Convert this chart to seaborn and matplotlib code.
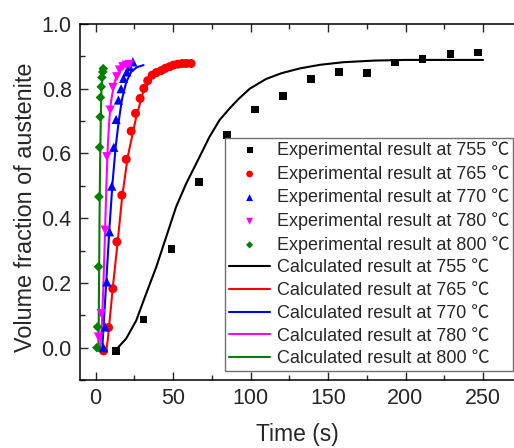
import matplotlib
matplotlib.use('Agg')
import matplotlib.pyplot as plt
import seaborn as sns
from matplotlib.ticker import MultipleLocator, FormatStrFormatter

# experimental points (time in s, volume fraction)
t755 = [13, 31, 49, 67, 85, 103, 121, 139, 157, 175, 193, 211, 229, 247]
f755 = [-0.01, 0.087, 0.304, 0.511, 0.657, 0.736, 0.777, 0.829, 0.851, 0.848, 0.881, 0.891, 0.906, 0.912]

t765 = [5.2, 8.4, 11.2, 13.8, 17.0, 19.8, 23.0, 25.8, 28.8, 31.2, 33.7, 36.6, 39.3, 42.4, 45.0, 47.7, 50.3, 53.1, 55.9, 58.5, 61.7]
f765 = [-0.01, 0.062, 0.182, 0.327, 0.471, 0.582, 0.669, 0.724, 0.770, 0.801, 0.825, 0.842, 0.850, 0.856, 0.863, 0.868, 0.873, 0.876, 0.878, 0.878, 0.878]

t770 = [5.2, 6.2, 7.3, 9.0, 10.5, 11.8, 13.3, 14.8, 16.5, 18.1, 20.2, 21.9, 24.1]
f770 = [0.0, 0.064, 0.203, 0.358, 0.499, 0.619, 0.705, 0.765, 0.80, 0.832, 0.852, 0.868, 0.883]

t780 = [1.9, 3.7, 6.2, 7.3, 9.5, 11.2, 13.7, 15.5, 17.6, 19.8, 21.9]
f780 = [0.033, 0.105, 0.363, 0.59, 0.734, 0.804, 0.837, 0.858, 0.868, 0.873, 0.875]

t800 = [0.9, 1.3, 1.9, 2.2, 2.6, 3.0, 3.2, 3.7, 4.1, 4.7, 5.0]
f800 = [0.0, 0.064, 0.25, 0.466, 0.619, 0.713, 0.773, 0.806, 0.835, 0.852, 0.862]

# calculated curves
ct755 = [13.5, 19.8, 26.3, 32.7, 39.2, 45.6, 52, 58.5, 65, 73.5, 80, 86.5, 92, 99.5, 110, 120, 132, 145, 160, 180, 200, 225, 250]
cf755 = [-0.005, 0.028, 0.084, 0.167, 0.249, 0.342, 0.435, 0.507, 0.569, 0.651, 0.703, 0.739, 0.767, 0.80, 0.83, 0.848, 0.863, 0.874, 0.882, 0.887, 0.889, 0.889, 0.889]

ct765 = [6.9, 7.9, 11.2, 14.4, 17.2, 20.8, 26.3, 30.5, 35.9, 43.4, 52, 62.8]
cf765 = [-0.01, 0.023, 0.187, 0.332, 0.466, 0.59, 0.713, 0.786, 0.832, 0.858, 0.87, 0.876]

ct770 = [4.3, 5.5, 6.9, 9, 11, 13, 15, 17, 19.8, 23, 26.5, 31]
cf770 = [-0.01, 0.09, 0.2, 0.37, 0.51, 0.62, 0.70, 0.765, 0.82, 0.852, 0.866, 0.873]

ct780 = [3, 4, 5, 6, 7, 8, 9, 10, 12, 14, 17, 20, 24]
cf780 = [-0.01, 0.06, 0.18, 0.33, 0.50, 0.63, 0.71, 0.76, 0.815, 0.845, 0.865, 0.872, 0.875]

ct800 = [1.9, 2.3, 2.6, 3.0, 3.4, 3.8, 4.5, 5.5, 7.0]
cf800 = [-0.01, 0.2, 0.40, 0.58, 0.70, 0.79, 0.835, 0.855, 0.862]

temps = ['755', '765', '770', '780', '800']
colors = ['black', '#ff0000', '#0000ff', '#ff00ff', '#008000']
markers = ['s', 'o', '^', 'v', 'D']
sizes = [32, 42, 44, 44, 24]
exp_t = [t755, t765, t770, t780, t800]
exp_f = [f755, f765, f770, f780, f800]
calc_t = [ct755, ct765, ct770, ct780, ct800]
calc_f = [cf755, cf765, cf770, cf780, cf800]

sns.set_style('ticks')
plt.rcParams['font.family'] = ['Liberation Sans', 'Noto Sans CJK SC', 'DejaVu Sans']
plt.rcParams['xtick.direction'] = 'in'
plt.rcParams['ytick.direction'] = 'in'

fig = plt.figure(figsize=(5.14, 4.48), dpi=100)
ax = fig.add_axes([80/514, 1-380/448, 434/514, 356/448])

for i in range(5):
    sns.scatterplot(x=exp_t[i], y=exp_f[i], marker=markers[i], color=colors[i], s=sizes[i],
                    edgecolor='none', linewidth=0, zorder=3, ax=ax,
                    label='Experimental result at ' + temps[i] + ' ℃')
for i in range(5):
    sns.lineplot(x=calc_t[i], y=calc_f[i], color=colors[i], linewidth=1.5, ax=ax,
                 sort=False, label='Calculated result at ' + temps[i] + ' ℃')

ax.set_xlim(-10, 270)
ax.set_ylim(-0.1, 1.0)
ax.xaxis.set_major_locator(MultipleLocator(50))
ax.xaxis.set_minor_locator(MultipleLocator(25))
ax.yaxis.set_major_locator(MultipleLocator(0.2))
ax.yaxis.set_minor_locator(MultipleLocator(0.1))
ax.yaxis.set_major_formatter(FormatStrFormatter('%.1f'))
ax.tick_params(which='major', length=6, width=1, labelsize=15.5, pad=6, top=True)
ax.tick_params(which='minor', length=3.5, width=1, top=True)
for s in ['left', 'bottom', 'top']:
    ax.spines[s].set_linewidth(1.1)
    ax.spines[s].set_color('black')
ax.spines['right'].set_visible(False)

ax.set_xlabel('Time (s)', fontsize=16.5)
ax.set_ylabel('Volume fraction of austenite', fontsize=16.8)
ax.xaxis.set_label_coords(0.5, -0.12)
ax.yaxis.set_label_coords(-0.098, 0.486)

h, l = ax.get_legend_handles_labels()
leg = ax.legend(h, l, loc='lower right', bbox_to_anchor=(0.9975, 0.025), borderaxespad=0,
                fontsize=13, frameon=True, fancybox=False, framealpha=1, edgecolor='#707070',
                labelspacing=0.32, handlelength=2.3, handletextpad=0.35, borderpad=0.2,
                markerscale=0.75)
leg.get_frame().set_linewidth(1.0)

fig.savefig('out.png', dpi=100)
